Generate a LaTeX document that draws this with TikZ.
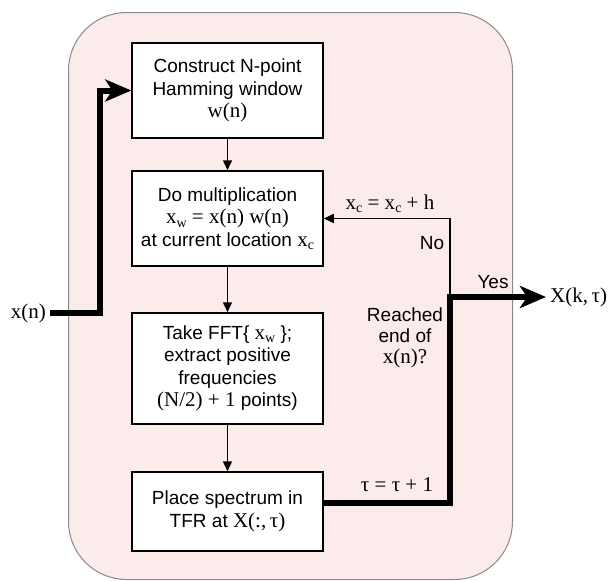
\documentclass[tikz,border=0pt]{standalone}
\usepackage{fontspec}
\setmainfont{Liberation Sans}
\newfontfamily\mf{Liberation Serif}
\usetikzlibrary{arrows.meta}
\definecolor{bgpink}{HTML}{FCEBEB}
\definecolor{outline}{HTML}{8A8A8A}
\newcommand\sbs[1]{\raisebox{-0.35ex}{\fontsize{14}{14}\selectfont #1}}
\newcommand\mt[1]{{\mf\fontsize{21}{22}\selectfont #1}}
\begin{document}
\begin{tikzpicture}[x=1pt,y=-1pt,
  stepbox/.style={draw, line width=1.5pt, fill=white, minimum width=191pt,
    align=center, inner sep=0pt, font=\fontsize{19}{22.5}\selectfont},
  lbl/.style={inner sep=0pt, font=\fontsize{19}{21}\selectfont, align=center},
  thin/.style={line width=1.5pt, -{Triangle[length=10pt,width=9pt]}},
  thick/.style={line width=6pt, -{Stealth[length=26pt,width=22pt,inset=7pt]}}
]
\useasboundingbox (0,0) rectangle (611,581);
\draw[outline, line width=1pt, fill=bgpink, rounded corners=58pt] (68.5,12.5) rectangle (512.5,579.5);

\node[stepbox, minimum height=95pt] (b1) at (227.5,90.5)
  {Construct N-point\\Hamming window\\\mt{w(n)}};
\node[stepbox, minimum height=95pt] (b2) at (227.5,218.5)
  {Do multiplication\\\mt{x\sbs{w} = x(n) w(n)}\\at current location \mt{x\sbs{c}}};
\node[stepbox, minimum height=111pt] (b3) at (227.5,368.5)
  {Take FFT\{ \mt{x\sbs{w}} \};\\extract positive\\frequencies\\\mt{(N/2) + 1} points)};
\node[stepbox, minimum height=79pt] (b4) at (227.5,511.5)
  {Place spectrum in\\TFR at \mt{X(:,\,τ)}};

\node[lbl, anchor=east] (xn) at (46,313) {\mt{x(n)}};
\node[lbl, anchor=west] (Xk) at (550,297) {\mt{X(k,\,τ)}};
\node[lbl] (xc) at (390,204) {\mt{x\sbs{c} = x\sbs{c} + h}};
\node[lbl] (no) at (432,243) {No};
\node[lbl] (yes) at (493,282) {Yes};
\node[lbl] (reach) at (405,338) {Reached\\end of\\\mt{x(n)?}};
\node[lbl] (tau) at (397,485) {\mt{τ = τ + 1}};

\coordinate (inA) at (100,313);
\coordinate (inB) at (100,90.5);
\coordinate (lpA) at (450,503);
\coordinate (lpB) at (450,297);
\coordinate (lpC) at (450,218.5);
\coordinate (outT) at (546,297);

\draw[thin] (b1) -- (b2);
\draw[thin] (b2) -- (b3);
\draw[thin] (b3) -- (b4);
\draw[thick] ([xshift=4pt]xn.east) -- (inA) -- (inB) -- (b1.west);
\draw[thin] (lpB) -- (lpC) -- (b2.east);
\draw[thick, -] (b4.east |- lpA) -- (lpA) -- (lpB);
\draw[thick] ([xshift=-3pt]lpB) -- (outT);
\end{tikzpicture}
\end{document}
